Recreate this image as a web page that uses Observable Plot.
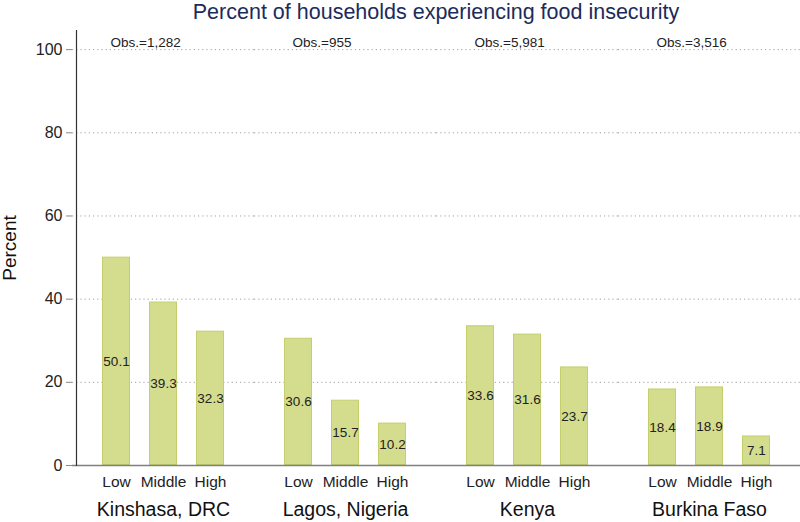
<!DOCTYPE html>
<html>
<head>
<meta charset="utf-8">
<script src="https://cdn.jsdelivr.net/npm/d3@7"></script>
<script src="https://cdn.jsdelivr.net/npm/@observablehq/plot@0.6"></script>
<style>
  html, body { margin: 0; padding: 0; background: #fff; }
  body { width: 800px; height: 522px; overflow: hidden; font-family: "Liberation Sans", Arial, sans-serif; }
  #title { height: 26px; line-height: 24px; font-size: 21.5px; color: #1c2b5a; text-align: center; padding-left: 72px; box-sizing: border-box; width: 800px; white-space: nowrap; }
</style>
</head>
<body>
<div id="title">Percent of households experiencing food insecurity</div>
<div id="chart"></div>
<script>
const countries = ["Kinshasa, DRC", "Lagos, Nigeria", "Kenya", "Burkina Faso"];
const incomeGroups = ["Low", "Middle", "High"];
const kinshasa = [50.1, 39.3, 32.3];
const lagos = [30.6, 15.7, 10.2];
const kenya = [33.6, 31.6, 23.7];
const burkina = [18.4, 18.9, 7.1];
const obsCounts = ["1,282", "955", "5,981", "3,516"];
const yTicks = [0, 20, 40, 60, 80, 100];

const seriesByCountry = [kinshasa, lagos, kenya, burkina];
const rows = countries.flatMap((c, i) =>
  incomeGroups.map((g, j) => ({country: c, group: g, value: seriesByCountry[i][j]}))
);
const obsRows = countries.map((c, i) => ({country: c, group: incomeGroups[0], label: "Obs.=" + obsCounts[i]}));
const fmt = d3.format(".1f");
const font = "Liberation Sans, Arial, sans-serif";

const chart = Plot.plot({
  width: 800,
  height: 496,
  marginTop: 4,
  marginBottom: 57,
  marginLeft: 72,
  marginRight: 0,
  style: {fontFamily: font, background: "#fff"},
  fx: {domain: countries, padding: 0, paddingOuter: 0},
  x: {domain: incomeGroups, paddingInner: 0.4, paddingOuter: 0.596},
  y: {domain: [0, 104.6], nice: false},
  marks: [
    Plot.gridY(yTicks.filter(d => d > 0), {stroke: "#a0a0a0", strokeOpacity: 1, strokeDasharray: "1.2,3", strokeWidth: 1}),
    Plot.barY(rows, {fx: "country", x: "group", y: "value", fill: "#d4dc8e", stroke: "#c4cf6c", strokeWidth: 1, inset: 0.5}),
    Plot.text(rows, {fx: "country", x: "group", y: d => d.value / 2, text: d => fmt(d.value), fontSize: 13.5, fill: "#222"}),
    Plot.text(obsRows, {fx: "country", x: "group", y: () => 100, text: "label", dy: -7, dx: -6, textAnchor: "start", fontSize: 13.5, fill: "#222"}),
    Plot.ruleY([0], {stroke: "#808080", strokeWidth: 1.5}),
    Plot.frame({anchor: "left", facetAnchor: "left", stroke: "#333", strokeWidth: 1.2, dx: 4}),
    Plot.axisY({ticks: yTicks, tickSize: 6, tickPadding: 4, fontSize: 16, stroke: "#888", color: "#222", label: null, facetAnchor: "left"}),
    Plot.text(["Percent"], {frameAnchor: "left", facetAnchor: "left", textAnchor: "middle", rotate: -90, dx: -63, fontSize: 19, fill: "#111"}),
    Plot.axisX({tickSize: 0, tickPadding: 10, fontSize: 15.5, color: "#222", label: null}),
    Plot.axisFx({anchor: "bottom", tickSize: 0, tickPadding: 37, fontSize: 19.5, color: "#111", label: null})
  ]
});
document.getElementById("chart").appendChild(chart);
</script>
</body>
</html>
